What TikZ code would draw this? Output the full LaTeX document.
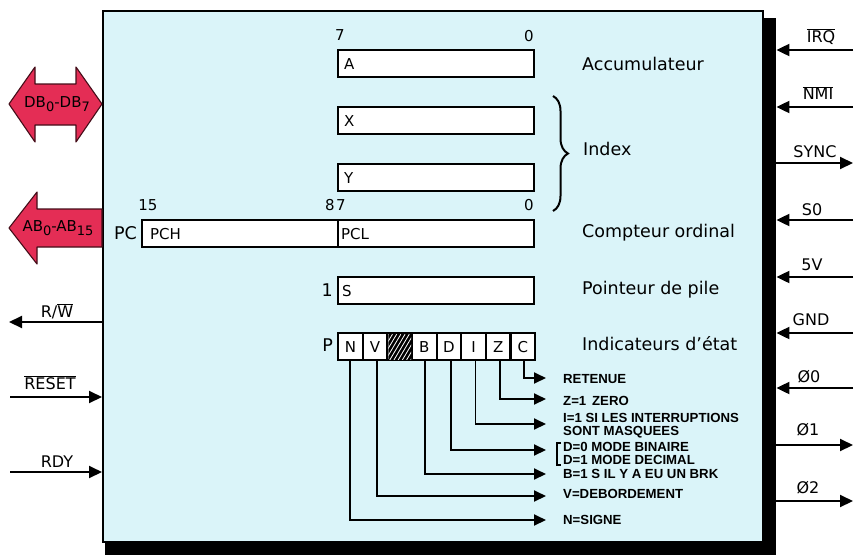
\documentclass[tikz,border=0pt]{standalone}
\usepackage{fontspec}
\setmainfont{DejaVu Sans}
\newfontfamily\descfont{Liberation Sans}
\usetikzlibrary{arrows.meta,decorations.pathreplacing,calc}
\definecolor{chipbg}{RGB}{218,244,249}
\definecolor{busred}{RGB}{228,45,85}
\newcommand\sbs[1]{\raisebox{-3.5pt}{\fontsize{13}{13}\selectfont #1}}
\begin{document}
\begin{tikzpicture}[x=1pt,y=-1pt,
  lbl/.style={font=\fontsize{17.5}{20}\selectfont, inner sep=0pt},
  num/.style={font=\fontsize{15}{18}\selectfont, inner sep=0pt},
  rlbl/.style={font=\fontsize{15}{18}\selectfont, inner sep=0pt, anchor=west},
  reg/.style={draw, line width=2.2pt, fill=white, inner sep=0pt, anchor=north west, minimum height=27pt},
  cell/.style={draw, line width=2.2pt, fill=white, minimum width=24.625pt, minimum height=27pt, inner sep=0pt, anchor=north west, font=\fontsize{15}{17}\selectfont},
  desc/.style={font=\descfont\bfseries\fontsize{13.2}{14}\selectfont, anchor=west, inner sep=0pt},
  sig/.style={line width=2pt, -{Triangle[length=13pt,width=12pt]}},
  flagl/.style={line width=1.9pt, -{Triangle[length=12pt,width=11pt]}},
  pin/.style={font=\fontsize{16}{18}\selectfont, inner sep=0pt},
  bus/.style={fill=busred, draw=black!70!busred, line width=1.1pt, line join=round},
  bustxt/.style={font=\fontsize{15}{17}\selectfont, inner sep=0pt}
]
\useasboundingbox (0,0) rectangle (854,555);
% shadow and chip
\node[fill=black, minimum width=671pt, minimum height=537pt, inner sep=0pt, anchor=north west] (shadow) at (105,18) {};
\node[draw, line width=2pt, fill=chipbg, minimum width=660pt, minimum height=531pt, anchor=north west, inner sep=0pt] (chip) at (102,10) {};

% registers
\node[num] (b7a) at (340,35) {7};
\node[num] (b0a) at (529,36) {0};
\node[reg, minimum width=196pt] (A) at (337,49) {};
\node[rlbl] (Al) at ([xshift=7pt]A.west) {A};
\node[reg, minimum width=196pt] (X) at (337,106) {};
\node[rlbl] (Xl) at ([xshift=7pt]X.west) {X};
\node[reg, minimum width=196pt] (Y) at (337,163) {};
\node[rlbl] (Yl) at ([xshift=7pt]Y.west) {Y};

\node[num] (b15) at (148,205) {15};
\node[num] (b8) at (330,205) {8};
\node[num] (b7p) at (341,205) {7};
\node[num] (b0p) at (529,205) {0};
\node[reg, minimum width=196pt] (PCH) at (141,219) {};
\node[reg, minimum width=196pt] (PCL) at (337,219) {};
\node[rlbl] (PCHl) at ([xshift=9pt]PCH.west) {PCH};
\node[rlbl] (PCLl) at ([xshift=4pt]PCL.west) {PCL};
\node[lbl, anchor=east] (PCn) at (137,233) {PC};

\node[reg, minimum width=196pt] (S) at (337,276) {};
\node[rlbl] (Sl) at ([xshift=5pt]S.west) {S};
\node[lbl, anchor=east] (Sn) at (333,290) {1};

% flags
\foreach \l [count=\i] in {N,V,{},B,D,I,Z,C}
  \node[cell] (f\i) at ({337+24.625*(\i-1)},332) {\l};
\node[lbl, anchor=east] (Pn) at (333,345) {P};
\begin{scope}
  \clip ([shift={(2pt,2pt)}]f3.south west) rectangle ([shift={(-2pt,-2pt)}]f3.north east);
  \fill[black] (f3.south west) rectangle (f3.north east);
  \foreach \k in {0,...,9}
    \draw[white, line width=0.8pt] ([xshift=\k*4.2pt-14pt]f3.south west) -- ++(16pt,27pt);
\end{scope}

% right labels
\node[lbl, anchor=west] (acc) at (582,64) {Accumulateur};
\node[lbl, anchor=west] (idx) at (583,149) {Index};
\node[lbl, anchor=west] (cpt) at (582,233) {Compteur ordinal};
\node[lbl, anchor=west] (ptr) at (582,290) {Pointeur de pile};
\node[lbl, anchor=west] (ind) at (582,344) {Indicateurs d'état};
\draw[line width=2pt, decorate, decoration={brace, amplitude=15pt}] (553,96) -- (553,211);

% flag descriptions
\coordinate (tC) at (546,378);
\coordinate (tZ) at (546,399);
\coordinate (tI) at (546,424);
\coordinate (tD) at (546,450);
\coordinate (tB) at (546,474);
\coordinate (tV) at (546,496);
\coordinate (tN) at (546,520);
\draw[flagl] ([xshift=1pt]f8.south) |- (tC);
\draw[flagl] ([xshift=2pt]f7.south) |- (tZ);
\draw[flagl] ([xshift=2pt]f6.south) |- (tI);
\draw[flagl] ([xshift=2pt]f5.south) |- (tD);
\draw[flagl] ([xshift=1pt]f4.south) |- (tB);
\draw[flagl] ([xshift=2pt]f2.south) |- (tV);
\draw[flagl] (f1.south) |- (tN);
\node[desc] (dC) at (563,379) {RETENUE};
\node[desc] (dZ) at (563,401) {Z=1 \,ZERO};
\node[desc] (dI1) at (563,418) {I=1 SI LES INTERRUPTIONS};
\node[desc] (dI2) at (563,432) {SONT MASQUEES};
\node[desc] (dD1) at (563,447) {D=0 MODE BINAIRE};
\node[desc] (dD2) at (563,460) {D=1 MODE DECIMAL};
\node[desc] (dB) at (563,474) {B=1 S IL Y A EU UN BRK};
\node[desc] (dV) at (563,494) {V=DEBORDEMENT};
\node[desc] (dN) at (563,520) {N=SIGNE};
\draw[line width=1.5pt] (561,443) -- (557,443) -- (557,465) -- (561,465);

% buses
\draw[bus] (9,104) -- (35,67) -- (35,84) -- (76,84) -- (76,67) -- (102,104) -- (76,142) -- (76,125) -- (35,125) -- (35,142) -- cycle;
\node[bustxt] (db) at (57,104) {DB\sbs{0}-DB\sbs{7}};
\draw[bus] (9,228) -- (37,192) -- (37,209) -- (102,209) -- (102,247) -- (37,247) -- (37,264) -- cycle;
\node[bustxt] (ab) at (58,228) {AB\sbs{0}-AB\sbs{15}};

% left signals
\coordinate (rwE) at (9,322);
\draw[sig] (chip.west |- rwE) -- (rwE);
\node[pin] (rwL) at (57,311) {R/$\overline{\mbox{W}}$};
\coordinate (rsS) at (10,397);
\draw[sig] (rsS) -- (chip.west |- rsS);
\node[pin] (rsL) at (50,383) {$\overline{\mbox{RESET}}$};
\coordinate (rdS) at (10,472);
\draw[sig] (rdS) -- (chip.west |- rdS);
\node[pin] (rdL) at (57,462) {RDY};

% right signals
\foreach \nm/\yy/\lx/\ly/\txt in {
  irq/50/821/37/{$\overline{\mbox{IRQ}}$},
  nmi/107/818/93/{$\overline{\mbox{NMI}}$},
  sync/163/815/152/{SYNC},
  so/220/812/210/{S0},
  fv/277/812/265/{5V},
  gnd/333/811/320/{GND},
  ph0/388/809/377/{Ø0},
  ph1/445/808/430/{Ø1},
  ph2/501/808/488/{Ø2}} {
  \coordinate (\nm o) at (853,\yy);
  \coordinate (\nm i) at (shadow.east |- \nm o);
  \node[pin] (\nm L) at (\lx,\ly) {\txt};
}
\draw[sig] (irqo) -- (irqi);
\draw[sig] (nmio) -- (nmii);
\draw[sig] (synci) -- (synco);
\draw[sig] (soo) -- (soi);
\draw[sig] (fvo) -- (fvi);
\draw[sig] (gndo) -- (gndi);
\draw[sig] (ph0o) -- (ph0i);
\draw[sig] (ph1i) -- (ph1o);
\draw[sig] (ph2i) -- (ph2o);
\end{tikzpicture}
\end{document}
